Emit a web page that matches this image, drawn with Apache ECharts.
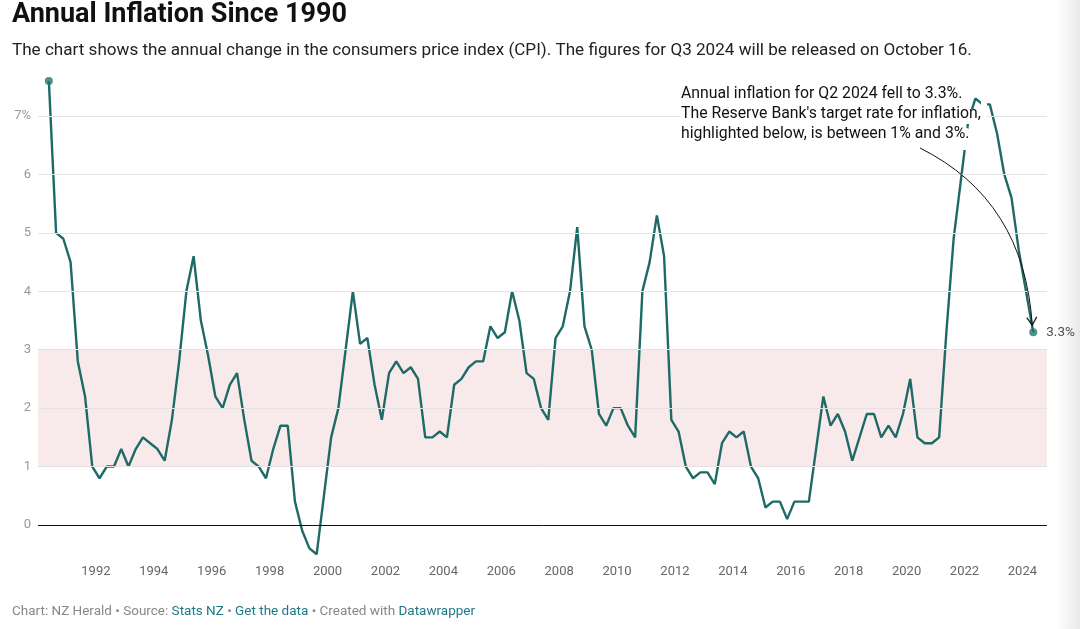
<!DOCTYPE html>
<html>
<head>
<meta charset="utf-8">
<script src="https://cdn.jsdelivr.net/npm/echarts@6/dist/echarts.min.js"></script>
<style>
  html, body { margin: 0; padding: 0; background: #fff; }
  #chart { width: 1080px; height: 629px; }
</style>
</head>
<body>
<div id="chart"></div>
<script>
// ---- Data (annual CPI change, %, quarterly, from 1990 Q2 to 2024 Q2) ----
const startYear = 1990;
const startQuarter = 2;
const inflation = [
  7.6, 5.0, 4.9,            // 1990 Q2-Q4
  4.5, 2.8, 2.2, 1.0,       // 1991
  0.8, 1.0, 1.0, 1.3,       // 1992
  1.0, 1.3, 1.5, 1.4,       // 1993
  1.3, 1.1, 1.8, 2.8,       // 1994
  4.0, 4.6, 3.5, 2.9,       // 1995
  2.2, 2.0, 2.4, 2.6,       // 1996
  1.8, 1.1, 1.0, 0.8,       // 1997
  1.3, 1.7, 1.7, 0.4,       // 1998
  -0.1, -0.4, -0.5, 0.5,    // 1999
  1.5, 2.0, 3.0, 4.0,       // 2000
  3.1, 3.2, 2.4, 1.8,       // 2001
  2.6, 2.8, 2.6, 2.7,       // 2002
  2.5, 1.5, 1.5, 1.6,       // 2003
  1.5, 2.4, 2.5, 2.7,       // 2004
  2.8, 2.8, 3.4, 3.2,       // 2005
  3.3, 4.0, 3.5, 2.6,       // 2006
  2.5, 2.0, 1.8, 3.2,       // 2007
  3.4, 4.0, 5.1, 3.4,       // 2008
  3.0, 1.9, 1.7, 2.0,       // 2009
  2.0, 1.7, 1.5, 4.0,       // 2010
  4.5, 5.3, 4.6, 1.8,       // 2011
  1.6, 1.0, 0.8, 0.9,       // 2012
  0.9, 0.7, 1.4, 1.6,       // 2013
  1.5, 1.6, 1.0, 0.8,       // 2014
  0.3, 0.4, 0.4, 0.1,       // 2015
  0.4, 0.4, 0.4, 1.3,       // 2016
  2.2, 1.7, 1.9, 1.6,       // 2017
  1.1, 1.5, 1.9, 1.9,       // 2018
  1.5, 1.7, 1.5, 1.9,       // 2019
  2.5, 1.5, 1.4, 1.4,       // 2020
  1.5, 3.3, 4.9, 5.9,       // 2021
  6.9, 7.3, 7.2, 7.2,       // 2022
  6.7, 6.0, 5.6, 4.7,       // 2023
  4.0, 3.3                  // 2024 Q1-Q2
];
const yTickValues = [0, 1, 2, 3, 4, 5, 6, 7];
const xTickYears = [1992, 1994, 1996, 1998, 2000, 2002, 2004, 2006, 2008, 2010,
                    2012, 2014, 2016, 2018, 2020, 2022, 2024];
const targetBand = [1, 3];

const titleText = 'Annual Inflation Since 1990';
const subtitleText = 'The chart shows the annual change in the consumers price index (CPI). The figures for Q3 2024 will be released on October 16.';
const noteLines = [
  'Annual inflation for Q2 2024 fell to 3.3%.',
  "The Reserve Bank's target rate for inflation,",
  'highlighted below, is between 1% and 3%.'
];

// quarter -> decimal-year position (middle of quarter)
const points = inflation.map(function (v, i) {
  const q = startQuarter - 1 + i;
  const t = startYear + Math.floor(q / 4) + (q % 4) / 4 + 0.125;
  return [t, v];
});
const firstPt = points[0];
const lastPt = points[points.length - 1];

const LINE = '#1d6a66';
const DOT = '#237570';

const chart = echarts.init(document.getElementById('chart'), null, { renderer: 'canvas' });

const option = {
  backgroundColor: '#ffffff',
  animation: false,
  grid: { left: 38, right: 33, top: 81, bottom: 74.8, containLabel: false },
  xAxis: {
    type: 'value',
    min: 1990,
    max: 2024.85,
    axisLine: { show: false },
    axisTick: { show: false },
    splitLine: { show: false },
    axisLabel: {
      customValues: xTickYears,
      color: '#666',
      fontSize: 13,
      fontFamily: 'Roboto',
      margin: 11,
      formatter: function (v) { return String(v); }
    }
  },
  yAxis: {
    type: 'value',
    min: -0.5,
    max: 7.6,
    axisLine: { show: false },
    axisTick: { show: false },
    splitLine: { show: false },
    axisLabel: {
      customValues: yTickValues,
      color: '#999',
      fontSize: 13,
      fontFamily: 'Roboto',
      margin: 7,
      formatter: function (v) { return v === 7 ? '7%' : String(v); }
    }
  },
  series: [
    {
      type: 'line',
      data: points,
      symbol: 'none',
      lineStyle: { color: LINE, width: 2.4 },
      z: 3,
      markArea: {
        silent: true,
        itemStyle: { color: '#f8e9ea' },
        data: [[{ yAxis: targetBand[0] }, { yAxis: targetBand[1] }]]
      },
      markLine: {
        silent: true,
        symbol: 'none',
        label: { show: false },
        data: yTickValues.filter(function (v) { return v !== 0; }).map(function (v) {
          return { yAxis: v, lineStyle: { color: '#e3e3e3', width: 1, type: 'solid' } };
        }).concat([{ yAxis: 0, lineStyle: { color: '#111', width: 1, type: 'solid' } }])
      }
    },
    {
      type: 'scatter',
      data: [
        { value: firstPt },
        { value: lastPt, label: { show: true } }
      ],
      symbol: 'circle',
      symbolSize: 8,
      itemStyle: { color: DOT },
      z: 4,
      label: {
        show: false,
        position: 'right',
        distance: 9,
        color: '#222',
        fontSize: 13.5,
        fontFamily: 'Roboto',
        formatter: function (p) { return p.value[1].toFixed(1) + '%'; }
      }
    }
  ]
};
chart.setOption(option);

// Annotation arrow pointing to last data point
const endPx = chart.convertToPixel({ xAxisIndex: 0, yAxisIndex: 0 }, lastPt);
const ax2 = endPx[0] - 1, ay2 = endPx[1] - 7;
const ax1 = 920, ay1 = 148;
const cpx = ax2 - 8, cpy = 200;
const dx = ax2 - cpx, dy = ay2 - cpy;
const len = Math.sqrt(dx * dx + dy * dy);
const ux = dx / len, uy = dy / len;
const headL = 8, headW = 5;
const hp1 = [ax2 - ux * headL - uy * headW, ay2 - uy * headL + ux * headW];
const hp2 = [ax2 - ux * headL + uy * headW, ay2 - uy * headL - ux * headW];

const noteStyle = {
  text: noteLines.join('\n'),
  font: '15.8px Roboto',
  lineHeight: 20
};

chart.setOption({
  graphic: [
    {
      type: 'text', left: 12, top: 2, z: 100,
      style: { text: titleText, font: 'bold 27px Roboto', fill: '#111' }
    },
    {
      type: 'text', left: 12, top: 42, z: 100,
      style: { text: subtitleText, font: '17.1px Roboto', fill: '#222' }
    },
    // white halo under the note text
    {
      type: 'text', left: 681, top: 84, z: 100, zlevel: 1, silent: true,
      style: Object.assign({}, noteStyle, {
        fill: '#fff', stroke: '#fff', lineWidth: 6, textBorderColor: '#fff', textBorderWidth: 6
      })
    },
    {
      type: 'text', left: 681, top: 84, z: 101, zlevel: 1, silent: true,
      style: Object.assign({}, noteStyle, { fill: '#111' })
    },
    {
      type: 'bezierCurve', z: 102, zlevel: 1, silent: true,
      shape: { x1: ax1, y1: ay1, x2: ax2, y2: ay2, cpx1: cpx, cpy1: cpy },
      style: { stroke: '#111', lineWidth: 1, fill: null }
    },
    {
      type: 'polyline', z: 102, zlevel: 1, silent: true,
      shape: { points: [hp1, [ax2, ay2], hp2] },
      style: { stroke: '#111', lineWidth: 1.2, fill: null }
    },
    {
      type: 'text', left: 12, top: 605, z: 100,
      style: {
        text: '{g|Chart: NZ Herald • Source: }{l|Stats NZ}{g| • }{l|Get the data}{g| • Created with }{l|Datawrapper}',
        font: '13.5px Roboto',
        rich: {
          g: { fill: '#888', font: '13.5px Roboto' },
          l: { fill: '#1c7a87', font: '13.5px Roboto' }
        }
      }
    },
    {
      type: 'rect', z: 0, silent: true,
      shape: { x: 1056, y: 0, width: 24, height: 629 },
      style: {
        fill: new echarts.graphic.LinearGradient(0, 0, 1, 0, [
          { offset: 0, color: 'rgba(235,235,235,0)' },
          { offset: 1, color: 'rgba(232,232,232,1)' }
        ])
      }
    }
  ]
});
</script>
</body>
</html>
